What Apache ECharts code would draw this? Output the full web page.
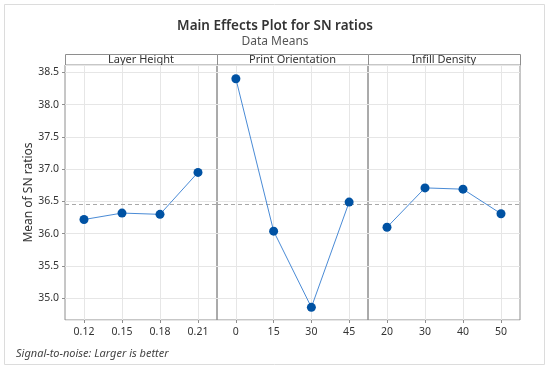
<!DOCTYPE html>
<html>
<head>
<meta charset="utf-8">
<script src="https://cdn.jsdelivr.net/npm/echarts@6/dist/echarts.min.js"></script>
<style>html,body{margin:0;padding:0;background:#fff;}#c{width:550px;height:370px;}</style>
</head>
<body>
<div id="c"></div>
<script>
const layerCats = ['0.12', '0.15', '0.18', '0.21'];
const layerVals = [36.22, 36.32, 36.30, 36.95];
const orientCats = ['0', '15', '30', '45'];
const orientVals = [38.40, 36.04, 34.86, 36.49];
const infillCats = ['20', '30', '40', '50'];
const infillVals = [36.10, 36.71, 36.69, 36.31];
const panelTitles = ['Layer Height', 'Print Orientation', 'Infill Density'];
const yAxisName = 'Mean of SN ratios';
const titleText = 'Main Effects Plot for SN ratios';
const subtitleText = 'Data Means';
const footnote = 'Signal-to-noise: Larger is better';

const allVals = layerVals.concat(orientVals, infillVals);
const grandMean = allVals.reduce((a, b) => a + b, 0) / allVals.length;

const panels = [
  { cats: layerCats, vals: layerVals },
  { cats: orientCats, vals: orientVals },
  { cats: infillCats, vals: infillVals }
];
const lefts = [65, 217, 368];
const widths = [152, 151, 152];
const gridTop = 65, gridHeight = 255;
const FONT = 'Noto Sans';
const borderCol = '#8e8e8e';

const chart = echarts.init(document.getElementById('c'), null, { renderer: 'canvas' });

const grid = [], xAxis = [], yAxis = [], series = [], graphic = [];
graphic.push({ type: 'rect', shape: { x: 4.5, y: 4.5, width: 540, height: 360 }, style: { fill: 'none', stroke: '#dcdcdc', lineWidth: 1 }, z: -1 });

panels.forEach((p, i) => {
  grid.push({ left: lefts[i], top: gridTop, width: widths[i], height: gridHeight, show: true, borderColor: borderCol, borderWidth: 1, backgroundColor: 'transparent' });
  xAxis.push({
    type: 'category', gridIndex: i, data: p.cats, boundaryGap: true,
    axisLine: { show: false },
    axisTick: { show: true, alignWithLabel: true, length: 3, lineStyle: { color: borderCol } },
    axisLabel: { color: '#333', fontFamily: FONT, fontSize: 10.5, margin: 7 },
    splitLine: { show: true, alignWithLabel: true, lineStyle: { color: '#e6e6e6', width: 1 } }
  });
  yAxis.push({
    type: 'value', gridIndex: i, min: 34.664, max: 38.613, splitNumber: 8,
    name: i === 0 ? yAxisName : '', nameLocation: 'middle', nameGap: 28,
    nameTextStyle: { color: '#333', fontFamily: FONT, fontSize: 12 },
    axisLine: { show: false },
    axisTick: { show: i === 0, length: 3, lineStyle: { color: borderCol } },
    axisLabel: { show: i === 0, color: '#333', fontFamily: FONT, fontSize: 10.5, margin: 6, showMinLabel: false, showMaxLabel: false, formatter: v => v.toFixed(1) },
    splitLine: { show: true, lineStyle: { color: '#e6e6e6', width: 1 } }
  });
  series.push({
    type: 'line', xAxisIndex: i, yAxisIndex: i, data: p.vals,
    symbol: 'circle', symbolSize: 9,
    itemStyle: { color: '#0052a3' },
    lineStyle: { color: '#4a8bd6', width: 1 },
    markLine: {
      silent: true, symbol: ['none', 'none'], label: { show: false },
      lineStyle: { color: '#a8a8a8', type: [4, 3], width: 1 },
      data: [{ yAxis: grandMean }]
    },
    z: 5
  });
  graphic.push({ type: 'rect', shape: { x: lefts[i] + 0.5, y: 54.5, width: widths[i], height: 10.5 }, style: { fill: '#fff', stroke: borderCol, lineWidth: 1 } });
  graphic.push({ type: 'text', x: lefts[i] + widths[i] / 2, y: 60, style: { text: panelTitles[i], align: 'center', verticalAlign: 'middle', fill: '#333', font: '11px "' + FONT + '"' } });
});

graphic.push({ type: 'text', x: 16, y: 354, style: { text: footnote, align: 'left', verticalAlign: 'middle', fill: '#444', font: 'italic 11px "' + FONT + '"' } });

chart.setOption({
  animation: false,
  backgroundColor: '#fff',
  title: {
    text: titleText, subtext: subtitleText, left: 'center', top: 14, itemGap: 3,
    textStyle: { color: '#333', fontFamily: FONT, fontSize: 13.5, fontWeight: 600 },
    subtextStyle: { color: '#555', fontFamily: FONT, fontSize: 12 }
  },
  grid, xAxis, yAxis, series, graphic
});
</script>
</body>
</html>
